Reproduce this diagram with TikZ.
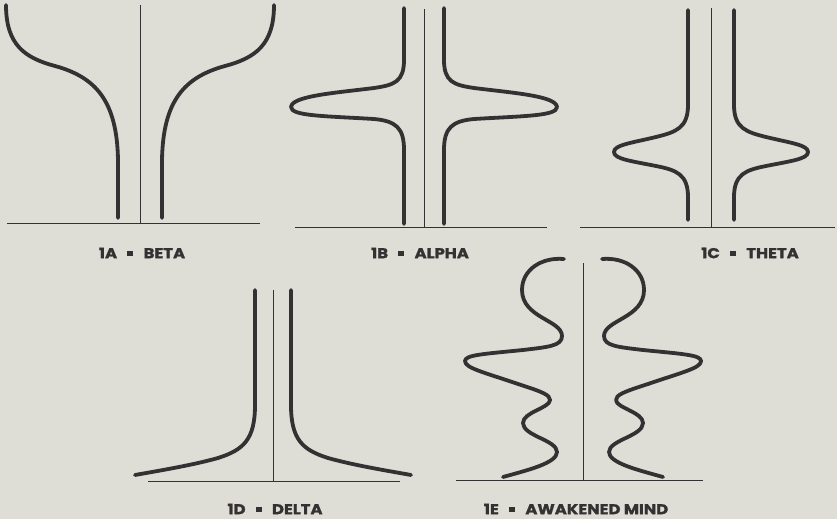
\documentclass[tikz,border=0pt]{standalone}
\usepackage{fontspec}
\newfontfamily\labfont{Poppins}[BoldFeatures={FakeBold=1.4}]
\definecolor{bg}{RGB}{222,222,215}
\definecolor{ink}{RGB}{52,49,50}
\newcommand\lbsq{\hspace{9pt}\raisebox{2.6pt}{\rule{5pt}{5pt}}\hspace{9pt}}
\newcommand\labtxt[1]{\scalebox{1.15}[1]{#1}}
\begin{document}
\begin{tikzpicture}[x=1pt,y=-1pt,
  wave/.style={line width=3.8pt, draw=ink, line cap=round, line join=round},
  axisline/.style={line width=1pt, draw=ink},
  lab/.style={font=\labfont\bfseries\fontsize{14.3}{15}\selectfont, text=ink, inner sep=0pt, anchor=center}]
\fill[bg] (0,0) rectangle (837,519);
\useasboundingbox (0,0) rectangle (837,519);

% ---------- 1A BETA ----------
\draw[axisline] (7,223) -- (260,223);
\draw[axisline] (140,5) -- (140,223);
\foreach \s in {1,-1}
  \draw[wave, shift={(140,0)}, xscale=\s]
    (-134,5) .. controls (-134,45) and (-115,58) .. (-85,66)
    .. controls (-45,77) and (-23,100) .. (-22,160) -- (-22,218);
\node[lab] (la) at (142,253) {\labtxt{1A\lbsq BETA}};

% ---------- 1B ALPHA ----------
\draw[axisline] (295,227) -- (547,227);
\draw[axisline] (424,9) -- (424,227);
\foreach \s in {1,-1}
  \draw[wave, shift={(424,0)}, xscale=\s]
    (-20,8) -- (-20,60) .. controls (-20,82) and (-30,85) .. (-50,88)
    .. controls (-90,93) and (-132,96) .. (-133,107)
    .. controls (-133,116) and (-100,116) .. (-50,119)
    .. controls (-28,121) and (-20,128) .. (-20,150) -- (-20,224);
\node[lab] (lb) at (420,253) {\labtxt{1B\lbsq ALPHA}};

% ---------- 1C THETA ----------
\draw[axisline] (580,227) -- (835,227);
\draw[axisline] (711,8) -- (711,227);
\foreach \s in {1,-1}
  \draw[wave, shift={(711,0)}, xscale=\s]
    (-23,10) -- (-23,105) .. controls (-23,128) and (-35,132) .. (-55,137)
    .. controls (-80,143) and (-97,145) .. (-97,152)
    .. controls (-97,159) and (-80,161) .. (-55,166)
    .. controls (-35,170) and (-23,174) .. (-23,197) -- (-23,220);
\node[lab] (lc) at (750,253) {\labtxt{1C\lbsq THETA}};

% ---------- 1D DELTA ----------
\draw[axisline] (148,481) -- (400,481);
\draw[axisline] (273,290) -- (273,481);
\foreach \s in {1,-1}
  \draw[wave, shift={(273,0)}, xscale=\s]
    (-18,290) -- (-18,405) .. controls (-18,440) and (-30,450) .. (-55,458)
    .. controls (-80,465) and (-110,470) .. (-138,475);
\node[lab] (ld) at (275,509) {\labtxt{1D\lbsq DELTA}};

% ---------- 1E AWAKENED MIND ----------
\draw[axisline] (456,480) -- (703,480);
\draw[axisline] (583,263) -- (583,480);
\foreach \s in {1,-1}
  \draw[wave, shift={(583,0)}, xscale=\s]
    (-19,259) .. controls (-42,257) and (-61,270) .. (-61,290)
    .. controls (-61,318) and (-21,320) .. (-21,336)
    .. controls (-21,346) and (-35,347) .. (-60,350)
    .. controls (-100,354) and (-118,355) .. (-118,361)
    .. controls (-118,368) and (-100,372) .. (-65,384)
    .. controls (-40,392) and (-33,395) .. (-33,400)
    .. controls (-33,408) and (-60,412) .. (-60,423)
    .. controls (-60,436) and (-26,440) .. (-26,452)
    .. controls (-26,463) and (-55,470) .. (-80,477);
\node[lab] (le) at (576,509) {\labtxt{1E\lbsq AWAKENED MIND}};
\end{tikzpicture}
\end{document}
